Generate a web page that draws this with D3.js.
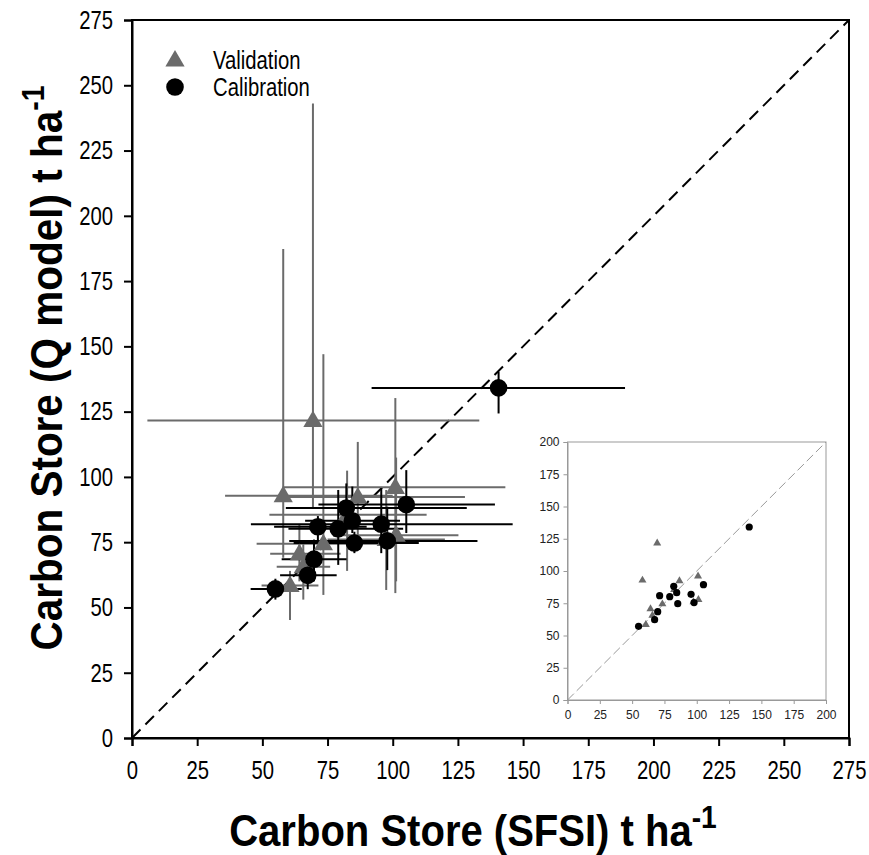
<!DOCTYPE html>
<html>
<head>
<meta charset="utf-8">
<script src="https://cdn.jsdelivr.net/npm/d3@7"></script>
<style>
  body { margin: 0; background: #fff; }
  svg { font-family: "Liberation Sans", Arial, sans-serif; }
</style>
</head>
<body>
<div id="chart"></div>
<script>
// validation points (SFSI x, Q model y) with error bar extents
var valX   = [58.0, 60.6, 64.2, 65.7, 69.4, 73.4, 82.5, 86.6, 97.5, 101.0, 101.3];
var valY   = [92.8, 58.4, 70.6, 65.6, 121.6, 74.4, 85.5, 92.3, 76.0, 96.0, 77.7];
var valXlo = [35.7, 49.7, 53.0, 55.5, 5.9, 47.8, 52.7, 60.0, 75.0, 58.3, 78.0];
var valXhi = [100.0, 71.5, 80.0, 76.0, 133.2, 100.0, 113.0, 127.7, 120.0, 143.2, 125.2];
var valYlo = [69.0, 45.2, 60.0, 53.0, 88.0, 54.8, 64.0, 75.0, 56.7, 55.5, 60.0];
var valYhi = [187.3, 64.0, 82.0, 75.0, 243.0, 147.0, 102.4, 113.4, 95.0, 130.2, 107.4];

// calibration points
var calX   = [55.0, 67.4, 69.8, 71.3, 79.1, 82.2, 84.5, 85.3, 95.6, 97.9, 105.2, 140.6];
var calY   = [57.1, 62.3, 68.5, 80.9, 80.1, 88.1, 83.2, 74.7, 81.9, 75.5, 89.4, 134.1];
var calXlo = [45.5, 56.8, 57.4, 54.5, 60.0, 59.0, 66.4, 62.0, 45.6, 60.3, 71.5, 91.9];
var calXhi = [65.1, 78.5, 82.3, 90.0, 104.0, 128.4, 102.8, 110.0, 146.0, 132.5, 139.2, 189.1];
var calYlo = [53.0, 57.0, 60.0, 74.7, 66.3, 80.0, 78.5, 70.8, 70.8, 64.3, 78.5, 124.3];
var calYhi = [61.0, 67.0, 76.0, 85.0, 95.0, 97.5, 96.3, 79.0, 95.7, 88.6, 102.6, 140.3];

var mainTicks  = d3.range(0, 276, 25);
var insetTicks = d3.range(0, 201, 25);
var legendLabels = ["Validation", "Calibration"];

var valColor = "#6b6b6b", calColor = "#000";
var narrow = 0.78; // the original labels are tall and narrow

function pts(xs, ys, xl, xh, yl, yh) {
  return xs.map(function (x, i) {
    return { x: x, y: ys[i], xlo: xl[i], xhi: xh[i], ylo: yl[i], yhi: yh[i] };
  });
}
var val = pts(valX, valY, valXlo, valXhi, valYlo, valYhi);
var cal = pts(calX, calY, calXlo, calXhi, calYlo, calYhi);

var W = 869, H = 855;
var svg = d3.select("#chart").append("svg").attr("width", W).attr("height", H);

var x = d3.scaleLinear().domain([0, 275]).range([132, 849]);
var y = d3.scaleLinear().domain([0, 275]).range([738, 20]);

var tri = d3.symbol().type(d3.symbolTriangle);

// 1:1 line
svg.append("line")
  .attr("x1", x(0)).attr("y1", y(0)).attr("x2", x(275)).attr("y2", y(275))
  .attr("stroke", "#000").attr("stroke-width", 2).attr("stroke-dasharray", "12,7");

function errorBars(data, color) {
  var g = svg.append("g").attr("stroke", color).attr("stroke-width", 2);
  g.selectAll(".h").data(data).enter().append("line")
    .attr("x1", function (d) { return x(d.xlo); }).attr("x2", function (d) { return x(d.xhi); })
    .attr("y1", function (d) { return y(d.y); }).attr("y2", function (d) { return y(d.y); });
  g.selectAll(".v").data(data).enter().append("line")
    .attr("x1", function (d) { return x(d.x); }).attr("x2", function (d) { return x(d.x); })
    .attr("y1", function (d) { return y(d.ylo); }).attr("y2", function (d) { return y(d.yhi); });
}
errorBars(val, valColor);
errorBars(cal, calColor);

svg.append("g").selectAll("path").data(val).enter().append("path")
  .attr("d", tri.size(160))
  .attr("transform", function (d) { return "translate(" + x(d.x) + "," + (y(d.y) + 1) + ")"; })
  .attr("fill", valColor);
svg.append("g").selectAll("circle").data(cal).enter().append("circle")
  .attr("cx", function (d) { return x(d.x); }).attr("cy", function (d) { return y(d.y); })
  .attr("r", 8.8).attr("fill", calColor);

// axes
var ax = svg.append("g").attr("transform", "translate(0,738)")
  .call(d3.axisBottom(x).tickValues(mainTicks).tickSize(8).tickPadding(15));
var ay = svg.append("g").attr("transform", "translate(132,0)")
  .call(d3.axisLeft(y).tickValues(mainTicks).tickSize(8).tickPadding(10));
[ax, ay].forEach(function (a) {
  a.select(".domain").attr("stroke-width", 2);
  a.selectAll(".tick line").attr("stroke-width", 2);
  a.selectAll("text").attr("font-size", 26).attr("font-family", "Liberation Sans, Arial, sans-serif")
    .attr("transform", "scale(" + narrow + ",1)");
});
ay.selectAll("text").attr("x", -19 / narrow);
svg.append("rect").attr("x", 132).attr("y", 20).attr("width", 717).attr("height", 718)
  .attr("fill", "none").attr("stroke", "#000").attr("stroke-width", 2);

// legend
svg.append("path").attr("d", tri.size(160)).attr("transform", "translate(175,61)").attr("fill", valColor);
svg.append("circle").attr("cx", 175).attr("cy", 87).attr("r", 8.8).attr("fill", calColor);
svg.selectAll(".leg").data(legendLabels).enter().append("text")
  .attr("transform", function (d, i) { return "translate(213," + (60 + i * 27) + ") scale(" + narrow + ",1)"; })
  .attr("dy", "0.35em").attr("font-size", 26).text(function (d) { return d; });

// axis titles
var xt = svg.append("text").attr("transform", "translate(473,846) scale(0.91,1)").attr("text-anchor", "middle")
  .attr("font-size", 44).attr("font-weight", "bold");
xt.append("tspan").text("Carbon Store (SFSI) t ha");
xt.append("tspan").attr("dy", -18).attr("font-size", 31).text("-1");

var yt = svg.append("text").attr("transform", "translate(62,368) rotate(-90) scale(0.92,1)").attr("text-anchor", "middle")
  .attr("font-size", 44).attr("font-weight", "bold");
yt.append("tspan").text("Carbon Store (Q model) t ha");
yt.append("tspan").attr("dy", -18).attr("font-size", 31).text("-1");

// inset
var ix = d3.scaleLinear().domain([0, 200]).range([567.5, 826]);
var iy = d3.scaleLinear().domain([0, 200]).range([700, 442]);
var inset = svg.append("g");
inset.append("rect").attr("x", 567.5).attr("y", 442).attr("width", 258.5).attr("height", 258)
  .attr("fill", "#fff").attr("stroke", "#999").attr("stroke-width", 1);
inset.append("line")
  .attr("x1", ix(0)).attr("y1", iy(0)).attr("x2", ix(200)).attr("y2", iy(200))
  .attr("stroke", "#999").attr("stroke-width", 1).attr("stroke-dasharray", "9,4");
var iax = inset.append("g").attr("transform", "translate(0,700)")
  .call(d3.axisBottom(ix).tickValues(insetTicks).tickSize(4).tickPadding(6));
var iay = inset.append("g").attr("transform", "translate(567.5,0)")
  .call(d3.axisLeft(iy).tickValues(insetTicks).tickSize(4).tickPadding(4));
[iax, iay].forEach(function (a) {
  a.select(".domain").attr("stroke", "#999");
  a.selectAll(".tick line").attr("stroke", "#999");
  a.selectAll("text").attr("font-size", 12).attr("fill", "#222")
    .attr("font-family", "Liberation Sans, Arial, sans-serif");
});
inset.append("g").selectAll("path").data(val).enter().append("path")
  .attr("d", tri.size(28))
  .attr("transform", function (d) { return "translate(" + ix(d.x) + "," + iy(d.y) + ")"; })
  .attr("fill", valColor);
inset.append("g").selectAll("circle").data(cal).enter().append("circle")
  .attr("cx", function (d) { return ix(d.x); }).attr("cy", function (d) { return iy(d.y); })
  .attr("r", 3.6).attr("fill", calColor);
</script>
</body>
</html>
